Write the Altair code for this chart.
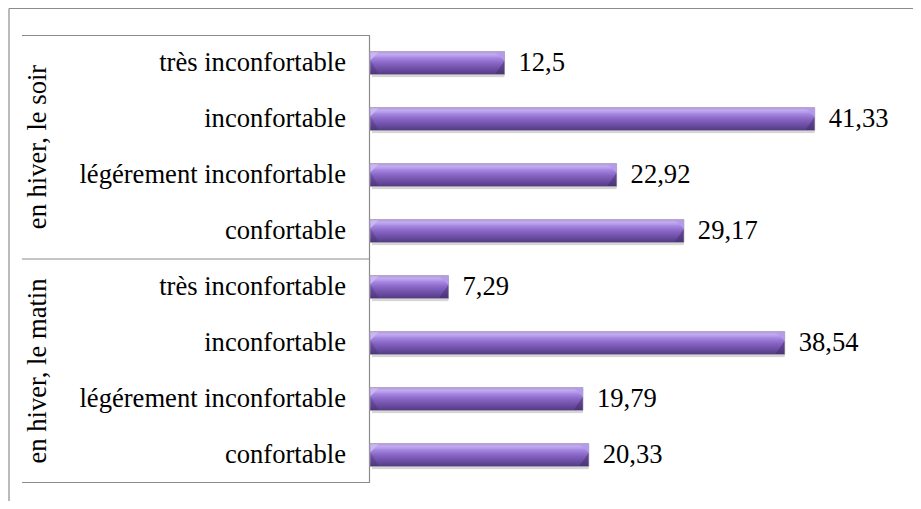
import altair as alt
import pandas as pd

# ---- data ----
group_names = ["en hiver, le soir", "en hiver, le matin"]
categories = ["très inconfortable", "inconfortable", "légérement inconfortable", "confortable"]
values_soir = [12.5, 41.33, 22.92, 29.17]
values_matin = [7.29, 38.54, 19.79, 20.33]
labels_soir = ["12,5", "41,33", "22,92", "29,17"]
labels_matin = ["7,29", "38,54", "19,79", "20,33"]

rows = []
for g, vals, labs in [(group_names[0], values_soir, labels_soir),
                      (group_names[1], values_matin, labels_matin)]:
    for c, v, l in zip(categories, vals, labs):
        rows.append({"group": g, "category": c, "value": v, "label": l, "key": f"{g}|{c}"})
df = pd.DataFrame(rows)
order = list(df["key"])

grp_df = pd.DataFrame({"group": group_names,
                       "key": [f"{g}|{categories[1]}" for g in group_names]})

FONT = "Liberation Serif"
FS = 26.6
LINE = "#8c8c8c"
BAR_H = 23

y_enc = alt.Y("key:N", sort=order, axis=None,
              scale=alt.Scale(paddingInner=0, paddingOuter=0))
x_enc = alt.X("value:Q", axis=None, scale=alt.Scale(domain=[0, 50], nice=False, zero=True))

grad = alt.Gradient(
    gradient="linear",
    stops=[
        alt.GradientStop(color="#ad9ad6", offset=0.0),
        alt.GradientStop(color="#c4aaf2", offset=0.12),
        alt.GradientStop(color="#a284df", offset=0.3),
        alt.GradientStop(color="#8966c5", offset=0.5),
        alt.GradientStop(color="#6d4fa6", offset=0.75),
        alt.GradientStop(color="#523b7e", offset=1.0),
    ],
    x1=0, x2=0, y1=0, y2=1,
)

base = alt.Chart(df)

shadow = base.mark_bar(height=BAR_H, color="#000000", opacity=0.16, xOffset=2, yOffset=3,
                       cornerRadius=1).encode(x=x_enc, y=y_enc)

bars = base.mark_bar(height=BAR_H, color=grad, stroke="#a79fb8", strokeWidth=0.8).encode(
    x=x_enc, y=y_enc)

# bevel facets at the bar ends (custom symbol shapes, unit = half bar height)
sym_size = BAR_H * BAR_H
bevel_tr = base.mark_point(filled=True, shape="M-0.8,-0.93L0,-0.93L0,-0.2Z",
                           size=sym_size, color="#b59ae8", opacity=0.95,
                           strokeWidth=0).encode(x=x_enc, y=y_enc)
bevel_br = base.mark_point(filled=True, shape="M0,-0.2L0,0.95L-0.8,0.95Z",
                           size=sym_size, color="#3e2b63", opacity=0.45,
                           strokeWidth=0).encode(x=x_enc, y=y_enc)
bevel_tl = base.mark_point(filled=True, shape="M0,-0.93L0.7,-0.93L0,-0.25Z",
                           size=sym_size, color="#cdb8f3", opacity=0.9,
                           strokeWidth=0).encode(x=alt.value(0.5), y=y_enc)
bevel_bl = base.mark_point(filled=True, shape="M0,-0.25L0,0.95L0.7,0.95Z",
                           size=sym_size, color="#3e2b63", opacity=0.3,
                           strokeWidth=0).encode(x=alt.value(0.5), y=y_enc)

value_text = base.mark_text(align="left", baseline="middle", dx=14, font=FONT,
                            fontSize=FS, color="#000000").encode(
    x=x_enc, y=y_enc, text="label:N")

cat_text = base.mark_text(align="right", baseline="middle", font=FONT,
                          fontSize=FS, color="#000000").encode(
    x=alt.value(-24), y=y_enc, text="category:N")

grp_text = alt.Chart(grp_df).mark_text(align="center", baseline="middle", angle=270,
                                       font=FONT, fontSize=FS, color="#000000").encode(
    x=alt.value(-332),
    y=alt.Y("key:N", sort=order, axis=None, bandPosition=1,
            scale=alt.Scale(paddingInner=0, paddingOuter=0)),
    text="group:N")

one = pd.DataFrame({"d": [0]})


def rule(**enc):
    return alt.Chart(one).mark_rule(color=LINE, strokeWidth=1.2).encode(**enc)


decor = [
    rule(x=alt.value(-0.5), y=alt.value(0), y2=alt.value(448)),          # axis line
    rule(x=alt.value(-348), x2=alt.value(-0.5), y=alt.value(0.5)),        # box top
    rule(x=alt.value(-348), x2=alt.value(-0.5), y=alt.value(224)),        # group divider
    rule(x=alt.value(-348), x2=alt.value(-0.5), y=alt.value(447.5)),      # box bottom
    rule(x=alt.value(-361), y=alt.value(-26.5), y2=alt.value(470)),       # outer frame left
    rule(x=alt.value(-361), x2=alt.value(545), y=alt.value(-26.5)),       # outer frame top
]

chart = alt.layer(*decor, shadow, bars, bevel_tr, bevel_br, bevel_tl, bevel_bl,
                  value_text, cat_text, grp_text).properties(
    width=538, height=448,
    padding={"left": 362, "top": 27, "right": 5, "bottom": 18},
    autosize=alt.AutoSizeParams(type="none"),
    background="white",
).configure_view(stroke=None)

chart.save("out.html", embed_options={"renderer": "svg", "actions": False})
